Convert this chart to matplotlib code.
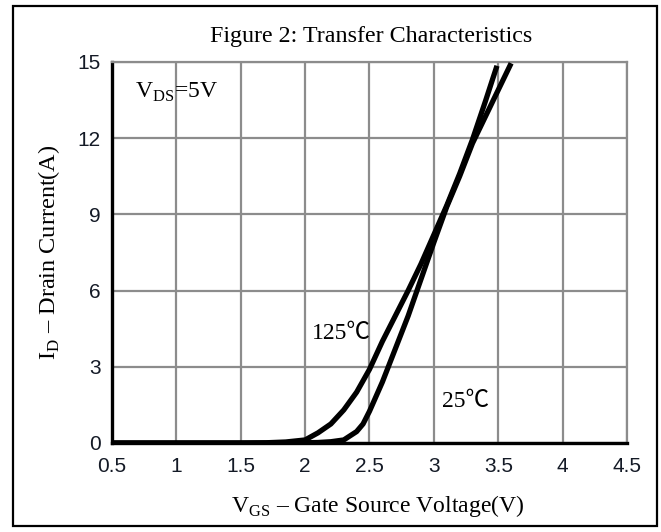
import matplotlib
matplotlib.use("Agg")
import matplotlib.pyplot as plt
from matplotlib.patches import Rectangle

# 125C curve
v_125 = [0.5, 1.5, 1.7, 1.85, 2.0, 2.1, 2.2, 2.3, 2.4, 2.5, 2.6, 2.7, 2.8, 2.9, 3.0, 3.1, 3.2, 3.3, 3.4, 3.49]
i_125 = [0, 0, 0.01, 0.04, 0.12, 0.4, 0.75, 1.3, 2.0, 2.9, 4.0, 5.0, 6.0, 7.05, 8.2, 9.35, 10.6, 11.95, 13.45, 14.85]

# 25C curve
v_25 = [0.5, 1.8, 2.0, 2.1, 2.2, 2.3, 2.4, 2.45, 2.5, 2.6, 2.7, 2.8, 2.9, 3.0, 3.1, 3.2, 3.3, 3.4, 3.5, 3.6]
i_25 = [0, 0, 0.01, 0.02, 0.05, 0.12, 0.45, 0.75, 1.25, 2.4, 3.7, 5.0, 6.45, 7.9, 9.3, 10.5, 11.8, 12.85, 13.9, 14.95]

x_ticks = [0.5, 1, 1.5, 2, 2.5, 3, 3.5, 4, 4.5]
x_tick_labels = ['0.5', '1', '1.5', '2', '2.5', '3', '3.5', '4', '4.5']
y_ticks = [0, 3, 6, 9, 12, 15]

serif = ['Liberation Serif', 'Noto Sans CJK SC', 'DejaVu Sans']
plt.rcParams['mathtext.fontset'] = 'custom'
plt.rcParams['mathtext.rm'] = 'Liberation Serif'

fig = plt.figure(figsize=(6.61, 5.32), dpi=100)
ax = fig.add_axes([0.1694, 0.1673, 0.7792, 0.7162])

grid_c = '#8c8c8c'
ax.set_xlim(0.5, 4.5)
ax.set_ylim(0, 15)
ax.set_xticks(x_ticks)
ax.set_xticklabels(x_tick_labels)
ax.set_yticks(y_ticks)
ax.grid(True, color=grid_c, linewidth=1.6)
ax.set_axisbelow(True)
ax.tick_params(length=0, labelsize=15)
ax.tick_params(axis='x', pad=10)
ax.tick_params(axis='y', pad=8)
for lab in ax.get_xticklabels() + ax.get_yticklabels():
    lab.set_family('Liberation Sans')
    lab.set_color('#141a26')

ax.spines['left'].set_linewidth(2.4)
ax.spines['bottom'].set_linewidth(2.4)
ax.spines['top'].set_color(grid_c)
ax.spines['right'].set_color(grid_c)
ax.spines['top'].set_linewidth(1.6)
ax.spines['right'].set_linewidth(1.6)

ax.plot(v_125, i_125, color='black', linewidth=3.8, solid_joinstyle='round', solid_capstyle='butt', zorder=3)
ax.plot(v_25, i_25, color='black', linewidth=3.8, solid_joinstyle='round', solid_capstyle='butt', zorder=3)

ax.text(0.68, 13.8, r'V$_{\mathrm{DS}}$=5V', fontsize=17, family=serif, va='center', ha='left')
ax.text(2.05, 4.3, '125\u2103', fontsize=17, family=serif, va='center', ha='left')
ax.text(3.06, 1.65, '25\u2103', fontsize=17, family=serif, va='center', ha='left')

ax.set_xlabel(r'V$_{\mathrm{GS}}$ – Gate Source Voltage(V)', fontsize=17, family=serif, labelpad=12)
ax.xaxis.label.set_x(0.515)
ax.set_ylabel(r'I$_{\mathrm{D}}$ – Drain Current(A)', fontsize=17.5, family=serif, labelpad=11)

fig.text(0.562, 1 - 42 / 532, 'Figure 2: Transfer Characteristics', fontsize=17.3, family=serif,
         ha='center', va='baseline')

fig.patches.append(Rectangle((0.0197, 0.0113), 0.974, 0.977, transform=fig.transFigure,
                             fill=False, edgecolor='black', linewidth=1.6))

fig.savefig('out.png', dpi=100)
